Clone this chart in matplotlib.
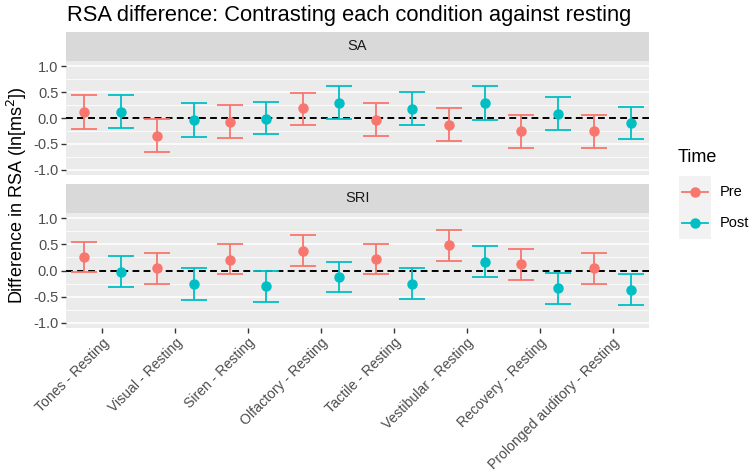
import matplotlib
matplotlib.use("Agg")
import matplotlib.pyplot as plt
from matplotlib.lines import Line2D
from matplotlib.patches import Rectangle
import numpy as np

plt.rcParams['font.family'] = ['Liberation Sans', 'DejaVu Sans']

conditions = ["Tones - Resting", "Visual - Resting", "Siren - Resting",
              "Olfactory - Resting", "Tactile - Resting", "Vestibular - Resting",
              "Recovery - Resting", "Prolonged auditory - Resting"]
groups = ["SA", "SRI"]

# SA panel
sa_pre = [0.11, -0.35, -0.08, 0.19, -0.03, -0.13, -0.26, -0.25]
sa_pre_lo = [-0.21, -0.66, -0.38, -0.13, -0.35, -0.44, -0.58, -0.57]
sa_pre_hi = [0.44, -0.025, 0.26, 0.49, 0.29, 0.19, 0.05, 0.06]
sa_post = [0.12, -0.04, -0.01, 0.29, 0.18, 0.29, 0.08, -0.09]
sa_post_lo = [-0.20, -0.36, -0.31, -0.01, -0.13, -0.03, -0.23, -0.41]
sa_post_hi = [0.44, 0.28, 0.31, 0.62, 0.50, 0.61, 0.40, 0.22]

# SRI panel
sri_pre = [0.26, 0.05, 0.21, 0.37, 0.22, 0.49, 0.13, 0.04]
sri_pre_lo = [-0.03, -0.25, -0.07, 0.08, -0.07, 0.19, -0.18, -0.25]
sri_pre_hi = [0.55, 0.33, 0.51, 0.67, 0.51, 0.78, 0.41, 0.34]
sri_post = [-0.02, -0.25, -0.29, -0.12, -0.25, 0.17, -0.34, -0.37]
sri_post_lo = [-0.31, -0.56, -0.60, -0.41, -0.55, -0.13, -0.64, -0.66]
sri_post_hi = [0.28, 0.04, 0.00, 0.17, 0.04, 0.47, -0.05, -0.07]

data = {
    "SA": [("Pre", sa_pre, sa_pre_lo, sa_pre_hi), ("Post", sa_post, sa_post_lo, sa_post_hi)],
    "SRI": [("Pre", sri_pre, sri_pre_lo, sri_pre_hi), ("Post", sri_post, sri_post_lo, sri_post_hi)],
}
colors = {"Pre": "#F8766D", "Post": "#00BFC4"}
offsets = {"Pre": -0.25, "Post": 0.25}

W, H = 750, 476
fig = plt.figure(figsize=(7.5, 4.76), dpi=100)

left, right = 66 / W, 649 / W
panels = {"SA": (61, 175, 32), "SRI": (213, 328, 184)}  # top, bottom, strip top (px)

x = np.arange(1, len(conditions) + 1)
for g in groups:
    top, bot, stop = panels[g]
    ax = fig.add_axes([left, 1 - bot / H, right - left, (bot - top) / H])
    ax.set_facecolor("#EBEBEB")
    for s in ax.spines.values():
        s.set_visible(False)
    for yv in [-0.75, -0.25, 0.25, 0.75]:
        ax.axhline(yv, color="white", lw=0.55, zorder=0)
    for yv in [-1.0, -0.5, 0.5, 1.0]:
        ax.axhline(yv, color="white", lw=1.1, zorder=0)
    ax.axhline(0, color="black", lw=1.4, ls=(0, (3.5, 2.2)), zorder=1)
    for name, m, lo, hi in data[g]:
        m = np.array(m)
        yerr = [m - np.array(lo), np.array(hi) - m]
        ax.errorbar(x + offsets[name], m, yerr=yerr, fmt='o', color=colors[name],
                    ms=6.5, elinewidth=1.3, capsize=9.5, capthick=1.3, zorder=3)
    ax.set_xlim(0.5, 8.5)
    ax.set_ylim(-1.1, 1.1)
    ax.set_yticks([-1.0, -0.5, 0.0, 0.5, 1.0])
    ax.set_yticklabels(["-1.0", "-0.5", "0.0", "0.5", "1.0"])
    ax.tick_params(axis='y', length=3.5, width=1.0, color="#333333",
                   labelcolor="#4D4D4D", labelsize=10.5, pad=2)
    ax.set_xticks(x)
    if g == "SRI":
        ax.set_xticklabels(conditions, rotation=45, ha='right', rotation_mode='anchor')
        ax.tick_params(axis='x', length=3.5, width=1.0, color="#333333",
                       labelcolor="#4D4D4D", labelsize=10.1, pad=2)
    else:
        ax.tick_params(axis='x', length=0, labelbottom=False)
    # strip
    sax = fig.add_axes([left, 1 - top / H, right - left, (top - stop) / H])
    sax.set_facecolor("#D9D9D9")
    sax.set_xticks([])
    sax.set_yticks([])
    for s in sax.spines.values():
        s.set_visible(False)
    sax.text(0.5, 0.5, g, ha='center', va='center', fontsize=10.5, color="#1A1A1A",
             transform=sax.transAxes)

fig.text(67 / W, 1 - 16 / H, "RSA difference: Contrasting each condition against resting",
         fontsize=15.75, ha='left', va='center', color="black")
fig.text(17 / W, 1 - 195 / H, "Difference in RSA (ln[ms$^2$])", rotation=90,
         fontsize=13, ha='center', va='center', color="black")

# legend
fig.text(678 / W, 1 - 158 / H, "Time", fontsize=13, ha='left', va='center')
lax = fig.add_axes([679 / W, 1 - 239 / H, 32 / W, 63 / H])
lax.set_xlim(0, 1)
lax.set_ylim(0, 2)
lax.axis('off')
lax.add_patch(Rectangle((0, 0), 1, 2, facecolor="#F2F2F2", edgecolor='none'))
for i, name in enumerate(["Pre", "Post"]):
    yy = 1.5 - i
    lax.add_line(Line2D([0.1, 0.9], [yy, yy], color=colors[name], lw=1.3))
    lax.plot([0.5], [yy], 'o', color=colors[name], ms=6.5)
    fig.text(720 / W, 1 - (192 + 31 * i) / H, name, fontsize=10.5, ha='left', va='center')

fig.savefig("out.png", dpi=100)
